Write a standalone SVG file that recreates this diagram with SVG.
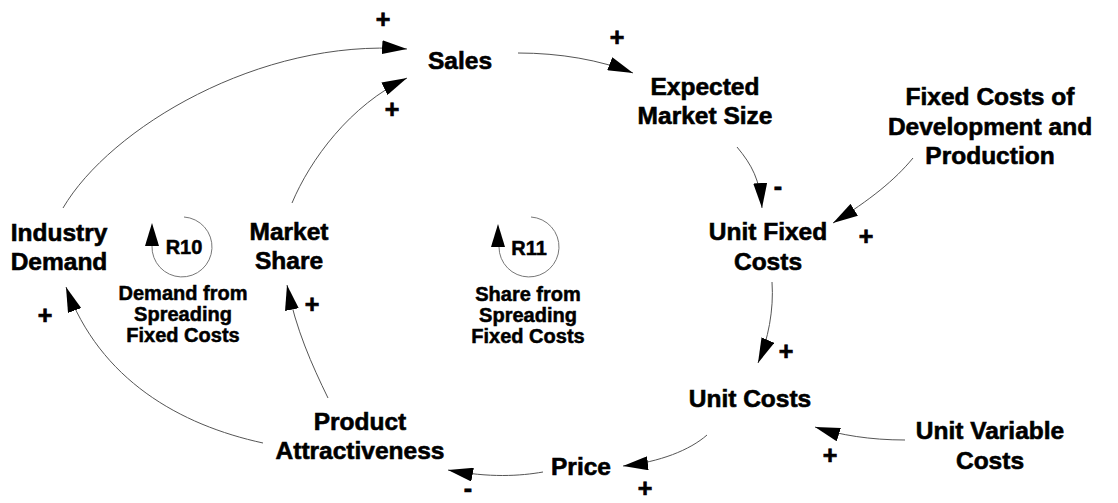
<svg xmlns="http://www.w3.org/2000/svg" width="1118" height="503" viewBox="0 0 1118 503">
<style>
.n{font-family:"Liberation Sans",Arial,sans-serif;font-weight:bold;font-size:24.5px;fill:#000;stroke:#000;stroke-width:0.6px;text-anchor:middle}
.s{font-family:"Liberation Sans",Arial,sans-serif;font-weight:bold;font-size:20px;fill:#000;stroke:#000;stroke-width:0.5px;text-anchor:middle}
.p{font-family:"Liberation Sans",Arial,sans-serif;font-weight:bold;font-size:25px;fill:#000;stroke:#000;stroke-width:0.7px;text-anchor:middle}
.c{fill:none;stroke:#555;stroke-width:1;marker-end:url(#ah)}
.loop{fill:none;stroke:#777;stroke-width:1}
</style>
<defs>
<marker id="ah" viewBox="0 0 25 14" refX="25" refY="7" markerWidth="25" markerHeight="14" markerUnits="userSpaceOnUse" orient="auto">
<path d="M0,0 L25,7 L0,14 z" fill="#000"/>
</marker>
</defs>
<rect width="1118" height="503" fill="#fff"/>
<g id="connectors">
<path class="c" d="M63,208 C110,128 260,38 407,49"/>
<path class="c" d="M292,203 C310,160 350,105 407,78"/>
<path class="c" d="M518,53 C560,53 600,60 633,73"/>
<path class="c" d="M737,147 C752,165 760,180 762,208"/>
<path class="c" d="M913,158 C895,180 870,200 833,223"/>
<path class="c" d="M772,282 C774,310 768,340 758,363"/>
<path class="c" d="M905,440 C870,440 840,435 815,427"/>
<path class="c" d="M707,435 C690,450 660,462 623,466"/>
<path class="c" d="M543,472 C520,476 490,478 448,470"/>
<path class="c" d="M263,443 C180,425 100,380 66,287"/>
<path class="c" d="M328,398 C312,365 296,330 287,285"/>
</g>
<g id="polarities">
<text class="p" x="383" y="28">+</text>
<text class="p" x="392" y="118">+</text>
<text class="p" x="617" y="46">+</text>
<text class="p" x="778" y="195">-</text>
<text class="p" x="866" y="245">+</text>
<text class="p" x="786" y="360">+</text>
<text class="p" x="830" y="464">+</text>
<text class="p" x="645" y="497">+</text>
<text class="p" x="468" y="497">-</text>
<text class="p" x="45" y="324">+</text>
<text class="p" x="312" y="313">+</text>
</g>
<g id="sales"><text class="n" x="460" y="69">Sales</text></g>
<g id="expected-market-size"><text class="n" x="705" y="95">Expected</text><text class="n" x="705" y="124">Market Size</text></g>
<g id="fixed-costs-dev"><text class="n" x="990" y="105">Fixed Costs of</text><text class="n" x="990" y="135">Development and</text><text class="n" x="990" y="164">Production</text></g>
<g id="unit-fixed-costs"><text class="n" x="768" y="240">Unit Fixed</text><text class="n" x="768" y="270">Costs</text></g>
<g id="unit-costs"><text class="n" x="750" y="407">Unit Costs</text></g>
<g id="unit-variable-costs"><text class="n" x="990" y="439">Unit Variable</text><text class="n" x="990" y="469">Costs</text></g>
<g id="price"><text class="n" x="581" y="475">Price</text></g>
<g id="product-attractiveness"><text class="n" x="360" y="430">Product</text><text class="n" x="360" y="459">Attractiveness</text></g>
<g id="industry-demand"><text class="n" x="59" y="241">Industry</text><text class="n" x="59" y="270">Demand</text></g>
<g id="market-share"><text class="n" x="289" y="240">Market</text><text class="n" x="289" y="269">Share</text></g>
<g id="loop-r10">
<path class="loop" d="M184,217 A30,30 0 1 1 152,246"/>
<path d="M152,223 L159,246 L145,246 z" fill="#000"/>
<text class="s" x="184" y="254">R10</text>
<text class="s" x="183" y="300">Demand from</text>
<text class="s" x="183" y="321">Spreading</text>
<text class="s" x="183" y="342">Fixed Costs</text>
</g>
<g id="loop-r11">
<path class="loop" d="M531,217 A30,30 0 1 1 499,247"/>
<path d="M498,224 L505,247 L491,247 z" fill="#000"/>
<text class="s" x="529" y="255">R11</text>
<text class="s" x="528" y="301">Share from</text>
<text class="s" x="528" y="322">Spreading</text>
<text class="s" x="528" y="343">Fixed Costs</text>
</g>
</svg>
